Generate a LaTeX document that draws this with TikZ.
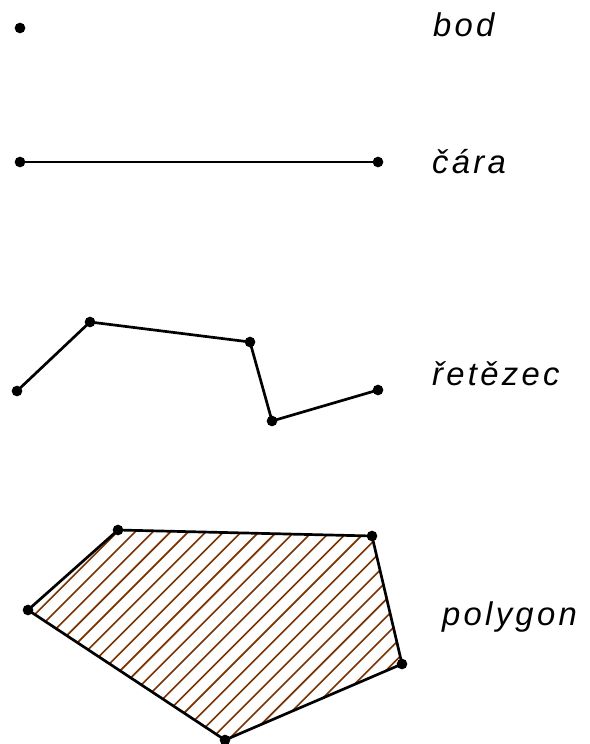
\documentclass[tikz,border=0pt]{standalone}
\usepackage{fontspec}
\setmainfont{Liberation Sans}
\usetikzlibrary{positioning}
\definecolor{hatchbrown}{HTML}{7A3300}

\begin{document}
\begin{tikzpicture}[x=0.03cm, y=-0.03cm,
    dot/.style={circle, fill=black, inner sep=0pt, minimum size=0.32cm},
    edge/.style={line width=2.3pt, black, line join=round},
    hatch/.style={line width=1.4pt, hatchbrown},
    lbl/.style={font=\itshape\fontsize{28}{30}\selectfont\addfontfeature{LetterSpace=10}, anchor=base west, inner sep=0pt}
  ]
  \useasboundingbox (0,0) rectangle (590,744);

  % bod
  \node[dot] (b1) at (20,28) {};
  \node[lbl] (tb) at (433,36) {bod};

  % cara
  \node[dot] (c1) at (20,162) {};
  \node[dot] (c2) at (378,162) {};
  \draw[edge] (c1.center) -- (c2.center);
  \node[lbl] (tc) at (432,173) {čára};

  % retezec
  \node[dot] (r1) at (17,391) {};
  \node[dot] (r2) at (90,322) {};
  \node[dot] (r3) at (250,342) {};
  \node[dot] (r4) at (272,421) {};
  \node[dot] (r5) at (378,390) {};
  \draw[edge] (r1.center) -- (r2.center) -- (r3.center) -- (r4.center) -- (r5.center);
  \node[lbl] (tr) at (432,385) {řetězec};

  % polygon
  \coordinate (p1) at (118,530);
  \coordinate (p2) at (372,536);
  \coordinate (p3) at (402,664);
  \coordinate (p4) at (225,740);
  \coordinate (p5) at (28,610);
  \begin{scope}
    \clip (p1) -- (p2) -- (p3) -- (p4) -- (p5) -- cycle;
    \foreach \c in {0,...,26}
      \draw[hatch] ({631.6+17.7*\c-520},520) -- ({631.6+17.7*\c-750},750);
  \end{scope}
  \draw[edge] (p1) -- (p2) -- (p3) -- (p4) -- (p5) -- cycle;
  \foreach \p in {p1,p2,p3,p4,p5}
    \node[dot] at (\p) {};
  \node[lbl] (tp) at (442,625) {polygon};
\end{tikzpicture}
\end{document}
